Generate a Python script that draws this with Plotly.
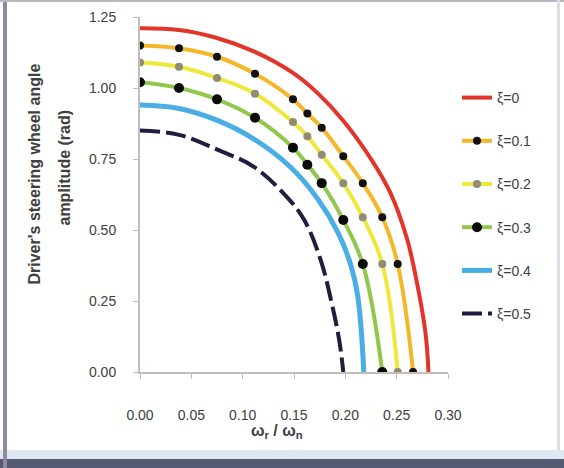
import plotly.graph_objects as go

# Frequency ratio grid and amplitude boundaries for each damping ratio
x_z0 = [0, 0.038, 0.075, 0.112, 0.149, 0.173, 0.198, 0.225, 0.244, 0.260, 0.270, 0.278, 0.281]
y_z0 = [1.21, 1.204, 1.176, 1.127, 1.053, 0.982, 0.885, 0.75, 0.63, 0.47, 0.31, 0.14, 0]

x_z1 = [0, 0.038, 0.075, 0.112, 0.149, 0.163, 0.177, 0.198, 0.217, 0.236, 0.251, 0.266]
y_z1 = [1.15, 1.14, 1.11, 1.05, 0.96, 0.91, 0.86, 0.76, 0.665, 0.545, 0.38, 0]

x_z2 = [0, 0.038, 0.075, 0.112, 0.149, 0.163, 0.177, 0.198, 0.217, 0.236, 0.251]
y_z2 = [1.09, 1.075, 1.035, 0.98, 0.88, 0.83, 0.765, 0.665, 0.545, 0.38, 0]

x_z3 = [0, 0.038, 0.075, 0.112, 0.149, 0.163, 0.177, 0.198, 0.217, 0.236]
y_z3 = [1.02, 1.0, 0.96, 0.895, 0.79, 0.73, 0.665, 0.535, 0.38, 0]

x_z4 = [0, 0.038, 0.076, 0.111, 0.147, 0.173, 0.193, 0.205, 0.212, 0.218]
y_z4 = [0.94, 0.928, 0.885, 0.82, 0.72, 0.61, 0.49, 0.38, 0.27, 0]

x_z5 = [0, 0.038, 0.076, 0.111, 0.142, 0.160, 0.176, 0.186, 0.194, 0.198]
y_z5 = [0.85, 0.835, 0.782, 0.722, 0.62, 0.535, 0.394, 0.254, 0.113, 0]

names = ["ξ=0", "ξ=0.1", "ξ=0.2", "ξ=0.3", "ξ=0.4", "ξ=0.5"]
x_ticks = [0, 0.05, 0.10, 0.15, 0.20, 0.25, 0.30]
y_ticks = [0, 0.25, 0.50, 0.75, 1.00, 1.25]

FONT = "Liberation Sans"
TXT = "#404040"
AXIS = "#c4bcb8"

fig = go.Figure()

series = [
    (x_z0, y_z0, dict(color="#e3342a", width=4), None),
    (x_z1, y_z1, dict(color="#f5b62a", width=4), dict(color="#111111", size=8)),
    (x_z2, y_z2, dict(color="#eee83a", width=4), dict(color="#8f8b74", size=8)),
    (x_z3, y_z3, dict(color="#92c64c", width=4), dict(color="#0a0a0a", size=10)),
    (x_z4, y_z4, dict(color="#4aaee6", width=5), None),
    (x_z5, y_z5, dict(color="#1e1f3e", width=4, dash="20px,6px"), None),
]

for i, (xs, ys, line, marker) in enumerate(series):
    fig.add_trace(go.Scatter(
        x=xs, y=ys, name=names[i], legendgroup=names[i],
        mode="lines+markers" if marker else "lines",
        line=dict(shape="spline", smoothing=1.1, **line),
        marker=marker,
    ))

# plot area in pixels: x 140..448, y 17..372
def px(xp):
    return (xp - 140) / 308
def py(yp):
    return (372 - yp) / 355

fig.update_layout(
    width=564, height=468,
    margin=dict(l=140, r=116, t=17, b=96, autoexpand=False),
    paper_bgcolor="white", plot_bgcolor="white",
    font=dict(family=FONT, size=14, color=TXT),
    showlegend=True,
    legend=dict(x=px(457), xanchor="left", y=py(82), yanchor="top",
                font=dict(family=FONT, size=14, color=TXT),
                tracegroupgap=22, bgcolor="rgba(0,0,0,0)"),
    xaxis=dict(range=[0, 0.30], tickvals=x_ticks, tickformat=".2f",
               showgrid=False, zeroline=False, showline=True, linecolor=AXIS,
               linewidth=2, ticks="outside", ticklen=5, tickcolor=AXIS,
               ticklabelstandoff=24, tickfont=dict(size=14, color=TXT)),
    yaxis=dict(range=[0, 1.25], tickvals=y_ticks, tickformat=".2f",
               showgrid=False, zeroline=False, showline=True, linecolor=AXIS,
               linewidth=2, ticks="outside", ticklen=5, tickcolor=AXIS,
               ticklabelstandoff=14, tickfont=dict(size=14, color=TXT)),
)

# Axis titles
fig.add_annotation(text="<b>Driver's steering wheel angle</b>", xref="paper", yref="paper",
                   x=px(23), y=py(174), textangle=-90, showarrow=False,
                   font=dict(family=FONT, size=16, color=TXT))
fig.add_annotation(text="<b>amplitude (rad)</b>", xref="paper", yref="paper",
                   x=px(53), y=py(168), textangle=-90, showarrow=False,
                   font=dict(family=FONT, size=16, color=TXT))
fig.add_annotation(text="<b>ω<sub>r</sub> / ω<sub>n</sub></b>", xref="paper", yref="paper",
                   x=px(277), y=py(443), showarrow=False,
                   font=dict(family=FONT, size=16, color=TXT))

# Chart frame
W, H = 564, 468
fig.add_shape(type="rect", xref="paper", yref="paper", x0=px(0), x1=px(W), y0=py(450), y1=py(459),
              fillcolor="#dde8f0", line_width=0, layer="below")
fig.add_shape(type="rect", xref="paper", yref="paper", x0=px(0), x1=px(W), y0=py(459), y1=py(H),
              fillcolor="#555a72", line_width=0, layer="below")
fig.add_shape(type="rect", xref="paper", yref="paper", x0=px(3), x1=px(7), y0=py(H), y1=py(0),
              fillcolor="#9089a3", line_width=0, layer="below")
fig.add_shape(type="rect", xref="paper", yref="paper", x0=px(0), x1=px(W), y0=py(2), y1=py(0),
              fillcolor="#b8b8c0", line_width=0, layer="below")
fig.add_shape(type="rect", xref="paper", yref="paper", x0=px(557), x1=px(560), y0=py(450), y1=py(0),
              fillcolor="#d8dde6", line_width=0, layer="below")

fig.write_html("out.html")
